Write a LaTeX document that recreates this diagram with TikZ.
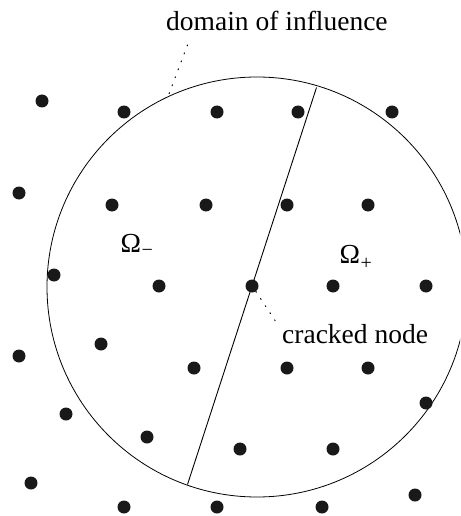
\documentclass[tikz,border=0pt]{standalone}
\usepackage{fontspec}
\setmainfont{Liberation Serif}
\begin{document}
\begin{tikzpicture}[x=1pt,y=-1pt,
  dot/.style={circle,fill=black!90,inner sep=0pt,minimum size=13pt},
  domcircle/.style={circle,draw,line width=0.8pt,inner sep=0pt,minimum size=420pt},
  crack/.style={line width=0.9pt},
  leader/.style={line width=1pt,dash pattern=on 1pt off 7.5pt,line cap=round},
  lbl/.style={inner sep=0pt,anchor=base west,font=\fontsize{27.5}{33}\selectfont}]
\useasboundingbox (0,0) rectangle (460,516);
\clip (0,0) rectangle (460,516);
% domain of influence
\node[domcircle] (dom) at (257,287) {};
% crack
\coordinate (ct) at (316.5,87.5);
\coordinate (cb) at (187.5,484.5);
\draw[crack] (ct) -- (cb);
% nodes
\foreach \n/\x/\y in {1/42/101,2/124/112,3/217/112,4/298/112,5/392/112,
  6/19/193,7/112/205,8/206/205,9/287/205,10/368/205,
  11/54/275,12/159/286,13/252/286,14/333/286,15/426/286,
  16/19/356,17/101/344,18/194/368,19/287/368,20/368/368,
  21/426/403,22/66/414,23/147/437,24/240/449,25/333/449,
  26/31/483,27/124/507,28/217/507,29/322/507,30/415/495}
  \node[dot] (n\n) at (\x,\y) {};
% labels
\node[lbl] (dlab) at (166,31) {domain of influence};
\node[lbl] (clab) at (282,343) {cracked node};
\node[lbl] (om) at (120.5,252) {Ω\kern0.5pt\raisebox{-4.5pt}{\fontsize{20}{20}\selectfont −}};
\node[lbl] (op) at (339.5,263) {Ω\kern0.5pt\raisebox{-6.5pt}{\fontsize{20}{20}\selectfont +}};
% leaders
\coordinate (d1) at (187.5,45);
\draw[leader] (d1) -- (dom.115);
\coordinate (c1) at (278,325);
\draw[leader] (n13.-55) -- (c1);
\end{tikzpicture}
\end{document}
